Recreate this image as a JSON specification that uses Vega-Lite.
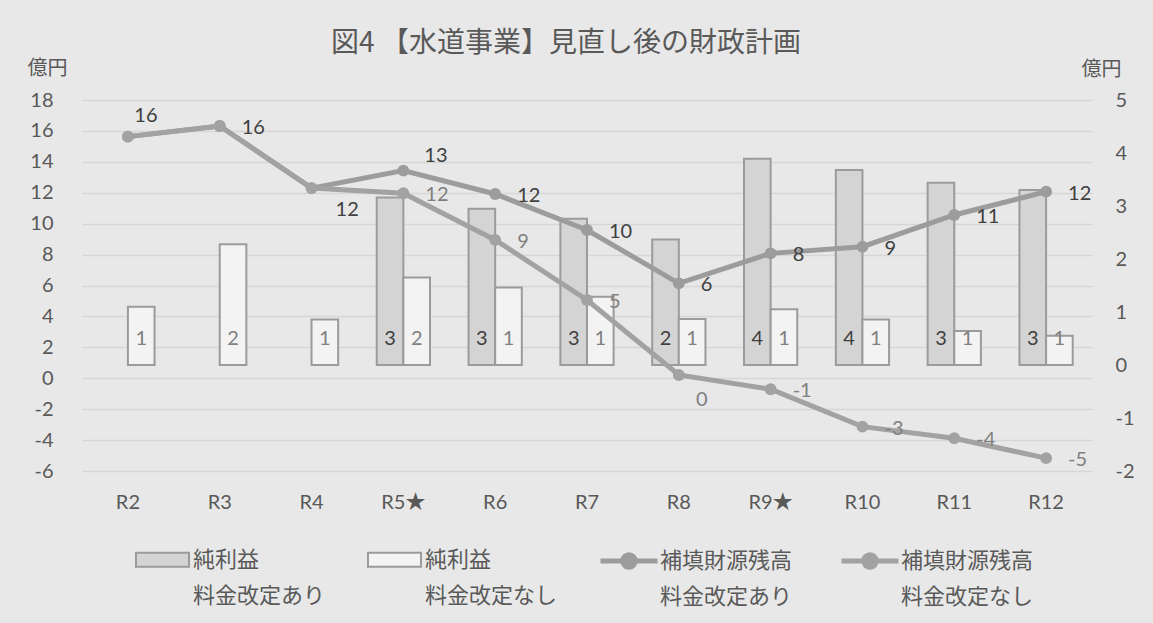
{
  "$schema": "https://vega.github.io/schema/vega-lite/v6.json",
  "width": 1010,
  "height": 371,
  "autosize": {"type": "none"},
  "padding": {"left": 82, "top": 100, "right": 61, "bottom": 152},
  "background": "#e8e8e8",
  "title": {
    "text": "図4 【水道事業】見直し後の財政計画",
    "anchor": "middle",
    "frame": "group",
    "dx": -21,
    "offset": 0,
    "font": "Noto Sans CJK JP",
    "fontSize": 28,
    "fontWeight": "normal",
    "color": "#595959"
  },
  "config": {
    "locale": {
      "number": {"decimal": ".", "thousands": ",", "grouping": [3], "currency": ["", ""], "minus": "-"}
    },
    "view": {"stroke": null},
    "axis": {
      "labelFont": "Lato, Noto Sans CJK JP",
      "labelFontSize": 20,
      "labelColor": "#595959",
      "titleFont": "Noto Sans CJK JP",
      "titleFontSize": 20,
      "titleFontWeight": "normal",
      "titleColor": "#595959",
      "domain": false,
      "ticks": false
    },
    "legend": {
      "labelFont": "Noto Sans CJK JP",
      "labelFontSize": 22,
      "labelColor": "#595959",
      "labelLimit": 300
    }
  },
  "datasets": {
    "profit": [
      {"year": "R2", "series": "純利益 料金改定なし", "value": 1.10},
      {"year": "R3", "series": "純利益 料金改定なし", "value": 2.28},
      {"year": "R4", "series": "純利益 料金改定なし", "value": 0.86},
      {"year": "R5★", "series": "純利益 料金改定あり", "value": 3.16},
      {"year": "R5★", "series": "純利益 料金改定なし", "value": 1.65},
      {"year": "R6", "series": "純利益 料金改定あり", "value": 2.95},
      {"year": "R6", "series": "純利益 料金改定なし", "value": 1.46},
      {"year": "R7", "series": "純利益 料金改定あり", "value": 2.76},
      {"year": "R7", "series": "純利益 料金改定なし", "value": 1.29},
      {"year": "R8", "series": "純利益 料金改定あり", "value": 2.37},
      {"year": "R8", "series": "純利益 料金改定なし", "value": 0.87},
      {"year": "R9★", "series": "純利益 料金改定あり", "value": 3.89},
      {"year": "R9★", "series": "純利益 料金改定なし", "value": 1.05},
      {"year": "R10", "series": "純利益 料金改定あり", "value": 3.68},
      {"year": "R10", "series": "純利益 料金改定なし", "value": 0.86},
      {"year": "R11", "series": "純利益 料金改定あり", "value": 3.44},
      {"year": "R11", "series": "純利益 料金改定なし", "value": 0.64},
      {"year": "R12", "series": "純利益 料金改定あり", "value": 3.30},
      {"year": "R12", "series": "純利益 料金改定なし", "value": 0.55}
    ],
    "balance": [
      {"year": "R2", "series": "補填財源残高 料金改定あり", "value": 15.63},
      {"year": "R3", "series": "補填財源残高 料金改定あり", "value": 16.32},
      {"year": "R4", "series": "補填財源残高 料金改定あり", "value": 12.30},
      {"year": "R5★", "series": "補填財源残高 料金改定あり", "value": 13.43},
      {"year": "R6", "series": "補填財源残高 料金改定あり", "value": 11.92},
      {"year": "R7", "series": "補填財源残高 料金改定あり", "value": 9.59},
      {"year": "R8", "series": "補填財源残高 料金改定あり", "value": 6.14},
      {"year": "R9★", "series": "補填財源残高 料金改定あり", "value": 8.08},
      {"year": "R10", "series": "補填財源残高 料金改定あり", "value": 8.51},
      {"year": "R11", "series": "補填財源残高 料金改定あり", "value": 10.56},
      {"year": "R12", "series": "補填財源残高 料金改定あり", "value": 12.07},
      {"year": "R2", "series": "補填財源残高 料金改定なし", "value": 15.63},
      {"year": "R3", "series": "補填財源残高 料金改定なし", "value": 16.32},
      {"year": "R4", "series": "補填財源残高 料金改定なし", "value": 12.30},
      {"year": "R5★", "series": "補填財源残高 料金改定なし", "value": 11.97},
      {"year": "R6", "series": "補填財源残高 料金改定なし", "value": 8.95},
      {"year": "R7", "series": "補填財源残高 料金改定なし", "value": 5.06},
      {"year": "R8", "series": "補填財源残高 料金改定なし", "value": 0.21},
      {"year": "R9★", "series": "補填財源残高 料金改定なし", "value": -0.71},
      {"year": "R10", "series": "補填財源残高 料金改定なし", "value": -3.13},
      {"year": "R11", "series": "補填財源残高 料金改定なし", "value": -3.88},
      {"year": "R12", "series": "補填財源残高 料金改定なし", "value": -5.17}
    ]
  },
  "encoding": {
    "x": {
      "field": "year",
      "type": "nominal",
      "sort": ["R2", "R3", "R4", "R5★", "R6", "R7", "R8", "R9★", "R10", "R11", "R12"],
      "scale": {"paddingInner": 0.42, "paddingOuter": 0.21},
      "axis": {"title": null, "labelAngle": 0, "labelPadding": 21, "labelFontSize": 20}
    }
  },
  "layer": [
    {
      "data": {"name": "profit"},
      "encoding": {
        "y": {
          "field": "value",
          "type": "quantitative",
          "scale": {"domain": [-2, 5], "nice": false, "zero": false},
          "axis": {
            "orient": "right",
            "values": [-2, -1, 0, 1, 2, 3, 4, 5],
            "grid": false,
            "labelPadding": 23,
            "labelAlign": "left",
            "title": "億円",
            "titleAngle": 0,
            "titleX": 9,
            "titleY": -31,
            "titleAlign": "center",
            "titleBaseline": "middle"
          }
        },
        "xOffset": {
          "field": "series",
          "type": "nominal",
          "scale": {"domain": ["純利益 料金改定あり", "純利益 料金改定なし"], "paddingInner": 0, "paddingOuter": 0}
        }
      },
      "layer": [
        {
          "mark": {"type": "bar", "stroke": "#9b9b9b", "strokeWidth": 2},
          "encoding": {
            "fill": {
              "field": "series",
              "type": "nominal",
              "scale": {"domain": ["純利益 料金改定あり", "純利益 料金改定なし"], "range": ["#d4d4d4", "#f3f3f3"]},
              "legend": {
                "title": null,
                "orient": "none",
                "legendX": 53,
                "legendY": 432,
                "direction": "horizontal",
                "columns": 2,
                "columnPadding": 38,
                "symbolType": "M-1,-0.26H1V0.26H-1Z",
                "symbolSize": 2809,
                "symbolStrokeWidth": 2,
                "symbolStrokeColor": "#9b9b9b",
                "labelOffset": 3,
                "labelExpr": "split(datum.label, ' ')",
                "encode": {
                  "symbols": {"update": {"stroke": {"value": "#9b9b9b"}, "strokeWidth": {"value": 2}}},
                  "labels": {"update": {"lineHeight": {"value": 36}}}
                }
              }
            }
          }
        },
        {
          "mark": {"type": "text", "font": "Lato", "fontSize": 20, "baseline": "middle", "align": "center", "dy": -26},
          "encoding": {
            "y": {"datum": 0, "type": "quantitative"},
            "text": {"field": "value", "type": "quantitative", "format": ".0f"},
            "color": {
              "condition": {"test": "indexof(datum.series, 'あり') >= 0", "value": "#404040"},
              "value": "#808080"
            }
          }
        }
      ]
    },
    {
      "data": {"name": "balance"},
      "encoding": {
        "y": {
          "field": "value",
          "type": "quantitative",
          "scale": {"domain": [-6, 18], "nice": false, "zero": false},
          "axis": {
            "orient": "left",
            "values": [-6, -4, -2, 0, 2, 4, 6, 8, 10, 12, 14, 16, 18],
            "grid": true,
            "gridColor": "#d6d6d6",
            "gridWidth": 1.5,
            "labelPadding": 29,
            "title": "億円",
            "titleAngle": 0,
            "titleX": -35,
            "titleY": -32,
            "titleAlign": "center",
            "titleBaseline": "middle"
          }
        }
      },
      "layer": [
        {
          "mark": {"type": "line", "strokeWidth": 5, "point": {"filled": true, "size": 140}},
          "encoding": {
            "color": {
              "field": "series",
              "type": "nominal",
              "scale": {"domain": ["補填財源残高 料金改定あり", "補填財源残高 料金改定なし"], "range": ["#9c9c9c", "#a2a2a2"]},
              "legend": {
                "title": null,
                "orient": "none",
                "legendX": 516,
                "legendY": 430,
                "direction": "horizontal",
                "columns": 2,
                "columnPadding": 38,
                "symbolType": "M-1,0H1M-0.22,0A0.22,0.22,0,1,1,0.22,0A0.22,0.22,0,1,1,-0.22,0Z",
                "symbolSize": 3249,
                "symbolStrokeWidth": 5,
                "labelOffset": 0,
                "labelExpr": "split(datum.label, ' ')",
                "encode": {
                  "symbols": {"update": {"fill": {"value": "#9c9c9c"}, "stroke": {"value": "#9c9c9c"}, "strokeWidth": {"value": 5}, "opacity": {"value": 1}}},
                  "labels": {"update": {"lineHeight": {"value": 36}}}
                }
              }
            }
          }
        },
        {
          "transform": [{"filter": "(indexof(datum.series, 'あり') >= 0 && indexof(['R2','R4','R5★'], datum.year) < 0) || (indexof(datum.series, 'なし') >= 0 && indexof(['R2','R3','R4','R8'], datum.year) < 0)"}],
          "mark": {"type": "text", "font": "Lato", "fontSize": 20, "baseline": "middle", "align": "left", "dx": 22, "dy": 2},
          "encoding": {
            "text": {"field": "value", "type": "quantitative", "format": ".0f"},
            "color": {
              "condition": {"test": "indexof(datum.series, 'あり') >= 0", "value": "#404040"},
              "value": "#808080"
            }
          }
        },
        {
          "transform": [{"filter": "indexof(datum.series, 'あり') >= 0 && datum.year === 'R2'"}],
          "mark": {"type": "text", "font": "Lato", "fontSize": 20, "baseline": "middle", "align": "center", "dx": 18, "dy": -21, "color": "#404040"},
          "encoding": {"text": {"field": "value", "type": "quantitative", "format": ".0f"}}
        },
        {
          "transform": [{"filter": "indexof(datum.series, 'あり') >= 0 && datum.year === 'R4'"}],
          "mark": {"type": "text", "font": "Lato", "fontSize": 20, "baseline": "middle", "align": "left", "dx": 24, "dy": 22, "color": "#404040"},
          "encoding": {"text": {"field": "value", "type": "quantitative", "format": ".0f"}}
        },
        {
          "transform": [{"filter": "indexof(datum.series, 'あり') >= 0 && datum.year === 'R5★'"}],
          "mark": {"type": "text", "font": "Lato", "fontSize": 20, "baseline": "middle", "align": "left", "dx": 21, "dy": -15, "color": "#404040"},
          "encoding": {"text": {"field": "value", "type": "quantitative", "format": ".0f"}}
        },
        {
          "transform": [{"filter": "indexof(datum.series, 'なし') >= 0 && datum.year === 'R8'"}],
          "mark": {"type": "text", "font": "Lato", "fontSize": 20, "baseline": "middle", "align": "center", "dx": 23, "dy": 25, "color": "#808080"},
          "encoding": {"text": {"field": "value", "type": "quantitative", "format": ".0f"}}
        }
      ]
    }
  ],
  "resolve": {"scale": {"y": "independent"}}
}
